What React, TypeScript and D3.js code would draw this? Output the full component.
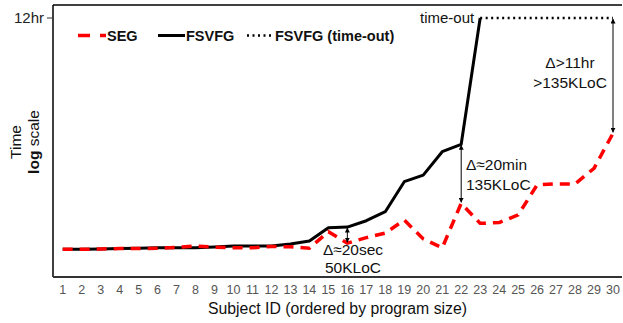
import * as d3 from "d3";

// subject ids 1..30 (ordered by program size)
const subjects = d3.range(1, 31);

// time in seconds
const segTimes = [6.8, 6.8, 6.9, 7.0, 7.0, 7.1, 7.3, 7.7, 7.4, 7.2, 7.2, 7.6, 7.5, 7.1, 13.3,
  8.6, 10.6, 12.6, 20.6, 10.1, 7.2, 38.8, 18.2, 18.7, 25, 78, 81, 81, 146, 550];
const fsvfgTimes = [6.8, 6.8, 6.9, 7.0, 7.1, 7.2, 7.2, 7.2, 7.4, 7.7, 7.7, 7.7, 8.3, 9.3, 15.4,
  15.8, 20.1, 28.3, 88, 113, 274, 362, 43200];
const timeoutIds = [23, 24, 25, 26, 27, 28, 29, 30];
const TIMEOUT = 43200; // 12hr

const yTicks = [{ v: 43200, label: "12hr" }];

const legendItems = [
  { name: "SEG", color: "#ff0000", dash: "12,10", w: 3.5, x: 78, len: 28 },
  { name: "FSVFG", color: "#000", dash: "none", w: 3, x: 158, len: 27 },
  { name: "FSVFG (time-out)", color: "#000", dash: "2,3.5", w: 2.5, x: 247, len: 27 },
];

export default function App() {
  const W = 623, H = 323;
  const left = 53, top = 5, right = 622, bottom = 277;

  const x = d3.scaleLinear().domain([1, 30]).range([62.7, 613]);
  const y = d3.scaleLog().domain([1, TIMEOUT]).range([300, 18]);

  const line = d3.line<[number, number]>().x((d) => x(d[0])).y((d) => y(d[1]));
  const segPts = subjects.map((s, i) => [s, segTimes[i]] as [number, number]);
  const fsPts = fsvfgTimes.map((t, i) => [i + 1, t] as [number, number]);
  const toPts = timeoutIds.map((s) => [s, TIMEOUT] as [number, number]);

  const font = "'Liberation Sans', Arial, sans-serif";

  // delta arrows: subject, upper value, lower value
  const arrows = [
    { s: 16, hi: fsvfgTimes[15], lo: segTimes[15] },
    { s: 22, hi: fsvfgTimes[21], lo: segTimes[21] },
    { s: 30, hi: TIMEOUT, lo: segTimes[29] },
  ];

  return (
    <svg width={W} height={H} style={{ position: "absolute", left: 0, top: 0 }} fontFamily={font}>
      <defs>
        <marker id="ah" viewBox="0 0 10 10" refX="9" refY="5" markerWidth="5" markerHeight="5" orient="auto-start-reverse">
          <path d="M0,0 L10,5 L0,10 z" fill="#000" />
        </marker>
      </defs>
      <rect width={W} height={H} fill="#fff" />

      {/* frame */}
      <line x1={left} x2={right} y1={top} y2={top} stroke="#000" strokeWidth={1.3} />
      <line x1={left} x2={left} y1={top} y2={bottom} stroke="#000" strokeWidth={1.5} />
      <line x1={left} x2={right} y1={bottom} y2={bottom} stroke="#333" strokeWidth={1.8} />

      {/* y ticks */}
      {yTicks.map((t) => (
        <g key={t.label}>
          <line x1={left - 6} x2={left} y1={y(t.v)} y2={y(t.v)} stroke="#333" strokeWidth={1} />
          <text x={left - 9} y={y(t.v) + 5} textAnchor="end" fontSize={15} fill="#222">{t.label}</text>
        </g>
      ))}

      {/* x tick labels */}
      {subjects.map((s) => (
        <text key={s} x={x(s)} y={294} textAnchor="middle" fontSize={12.5} fill="#555">{s}</text>
      ))}
      <text x={(left + right) / 2} y={314} textAnchor="middle" fontSize={15.8} fill="#111">
        Subject ID (ordered by program size)
      </text>

      {/* y title */}
      <text transform="translate(20.5,142) rotate(-90)" textAnchor="middle" fontSize={15.5} fill="#111">Time</text>
      <text transform="translate(38.5,142) rotate(-90)" textAnchor="middle" fontSize={15.5} fill="#111">
        <tspan fontWeight="bold">log</tspan> scale
      </text>

      {/* series */}
      <path d={line(toPts) ?? ""} fill="none" stroke="#000" strokeWidth={2.5} strokeDasharray="2,3.5" />
      <path d={line(fsPts) ?? ""} fill="none" stroke="#000" strokeWidth={3} strokeLinejoin="round" />
      <path d={line(segPts) ?? ""} fill="none" stroke="#ff0000" strokeWidth={3.5} strokeDasharray="10,7" />

      {/* legend */}
      {legendItems.map((l) => (
        <g key={l.name}>
          <line x1={l.x} x2={l.x + l.len} y1={35.5} y2={35.5} stroke={l.color} strokeWidth={l.w} strokeDasharray={l.dash} />
          <text x={l.x + l.len + 1} y={40.7} fontSize={14.5} fontWeight="bold" fill="#111">{l.name}</text>
        </g>
      ))}

      {/* annotations */}
      {arrows.map((a) => (
        <line key={a.s} x1={x(a.s)} x2={x(a.s)} y1={y(a.hi) + 1} y2={y(a.lo) - 1} stroke="#000" strokeWidth={1}
          markerStart="url(#ah)" markerEnd="url(#ah)" />
      ))}
      <text x={x(23) - 6} y={23} textAnchor="end" fontSize={15} fill="#111">time-out</text>
      <g fontSize={15.5} fill="#111">
        <text x={353} y={255} textAnchor="middle">Δ≈20sec</text>
        <text x={353} y={273} textAnchor="middle">50KLoC</text>
        <text x={466} y={170}>Δ≈20min</text>
        <text x={466} y={190}>135KLoC</text>
        <text x={570} y={68} textAnchor="middle">Δ&gt;11hr</text>
        <text x={570} y={88} textAnchor="middle">&gt;135KLoC</text>
      </g>
    </svg>
  );
}
